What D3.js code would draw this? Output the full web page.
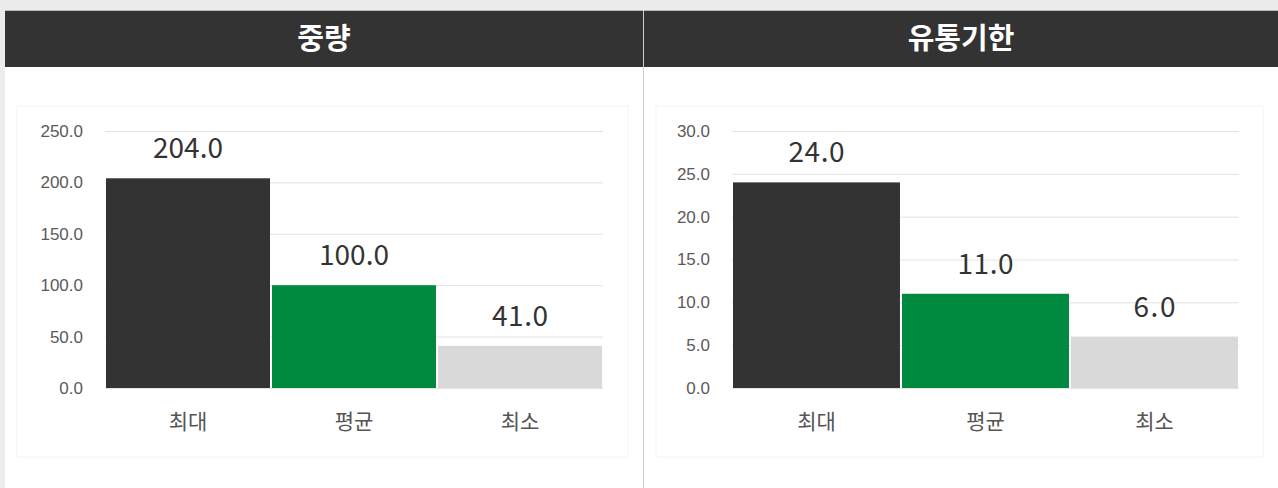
<html>
<head>
<meta charset="UTF-8"/>
<script src="https://d3js.org/d3.v7.min.js"></script>
<title>중량 / 유통기한</title>
<style>
body{ margin:0; background:#ececec; font-family:"Noto Sans CJK KR","Noto Sans",sans-serif; }
svg{ display:block; }
.tick line{ stroke:#e2e2e2; }
.tick text{ fill:#5a5a5a; font-size:17px; }
.domain{ display:none; }
</style>
</head>
<body>
<svg id='chart' width=1278 height=488></svg>
<script>
'use strict';
var categories = ['최대', '평균', '최소'];
var weightValues = [204.0, 100.0, 41.0];
var shelfValues = [24.0, 11.0, 6.0];
var weightTicks = [0, 50, 100, 150, 200, 250];
var shelfTicks = [0, 5, 10, 15, 20, 25, 30];
var titles = ['중량', '유통기한'];
var colors = ['#333333', '#008a40', '#d9d9d9'];

var svg = d3.select('#chart');

function panel(x0, x1, title, values, ticks, axisX, plotRight){
    var g = svg.append('g');
    g.append('rect').attr('x', x0).attr('y', 11).attr('width', x1 - x0).attr('height', 477).attr('fill', '#fff');
    g.append('rect').attr('x', x0).attr('y', 11).attr('width', x1 - x0).attr('height', 56).attr('fill', '#333');
    g.append('line').attr('x1', x0).attr('x2', x1).attr('y1', 10.5).attr('y2', 10.5).attr('stroke', '#bbb');
    g.append('text').attr('x', (x0 + x1) / 2).attr('y', 41)
        .attr('text-anchor', 'middle').attr('dominant-baseline', 'middle')
        .attr('fill', '#fff').attr('font-size', 29).attr('font-weight', 'bold').text(title);

    // inner card
    g.append('rect').attr('x', x0 + 12).attr('y', 106).attr('width', x1 - x0 - 27).attr('height', 351)
        .attr('fill', '#fff').attr('stroke', '#f4f4f4');

    var sx = d3.scaleBand().domain(categories).range([axisX, plotRight]).paddingInner(0.012);
    var sy = d3.scaleLinear().domain([0, ticks[ticks.length - 1]]).range([388, 131]);

    var yAxis = d3.axisLeft(sy).tickValues(ticks).tickFormat(d3.format('.1f'))
        .tickSize(-(plotRight - axisX + 2)).tickPadding(22);
    g.append('g').attr('transform', 'translate(' + (axisX - 1) + ',0)').call(yAxis);

    g.selectAll('rect.bar').data(values).enter().append('rect').attr('class', 'bar')
        .attr('x', function(d, i){ return sx(categories[i]); })
        .attr('y', function(d){ return sy(d); })
        .attr('width', sx.bandwidth())
        .attr('height', function(d){ return sy(0) - sy(d); })
        .attr('fill', function(d, i){ return colors[i]; });

    g.selectAll('text.val').data(values).enter().append('text').attr('class', 'val')
        .attr('x', function(d, i){ return sx(categories[i]) + sx.bandwidth() / 2; })
        .attr('y', function(d){ return sy(d) - 20; })
        .attr('text-anchor', 'middle').attr('fill', '#333').attr('font-size', 28)
        .attr('textLength', function(d){ return d3.format('.1f')(d).length * 14; })
        .text(function(d){ return d3.format('.1f')(d); });

    g.selectAll('text.cat').data(categories).enter().append('text').attr('class', 'cat')
        .attr('x', function(d){ return sx(d) + sx.bandwidth() / 2; })
        .attr('y', 429)
        .attr('text-anchor', 'middle').attr('fill', '#555').attr('font-size', 21)
        .text(function(d){ return d; });
}

panel(5, 643, titles[0], weightValues, weightTicks, 106, 602);
panel(644, 1278, titles[1], shelfValues, shelfTicks, 733, 1238);
svg.append('line').attr('x1', 643.5).attr('x2', 643.5).attr('y1', 11).attr('y2', 488).attr('stroke', '#ccc');
</script>
</body>
</html>
